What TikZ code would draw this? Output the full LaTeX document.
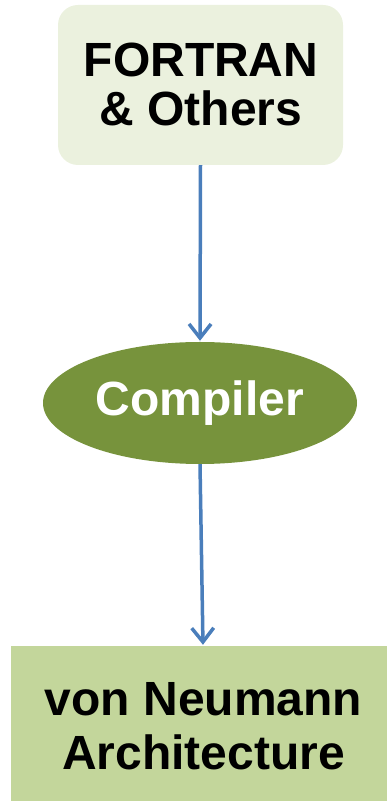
\documentclass[tikz,border=0pt]{standalone}
\usepackage{fontspec}
\setmainfont{Liberation Sans}
\usetikzlibrary{arrows.meta,shapes.geometric}

\definecolor{srcfill}{HTML}{EBF1DE}
\definecolor{compfill}{HTML}{77933C}
\definecolor{archfill}{HTML}{C3D69B}
\definecolor{flowblue}{HTML}{4A7EBB}

\tikzset{
  bigtext/.style={font=\bfseries\fontsize{48}{49}\selectfont, align=center, inner sep=0pt},
  flow/.style={draw=flowblue, line width=3.5pt,
    -{Straight Barb[length=14pt,width=22pt,line width=3.5pt]}, shorten >=1pt},
}

\begin{document}
\begin{tikzpicture}[x=1pt,y=1pt]
  \useasboundingbox (0,0) rectangle (387,801);
  \clip (0,0) rectangle (387,801);

  % source languages box
  \node[fill=srcfill, rounded corners=20pt, minimum width=285pt, minimum height=160pt,
        inner sep=0pt] (src) at (200.5,716) {};
  \node[bigtext] (srcText) at (201,717) {FORTRAN\\[0pt]\& Others};

  % compiler ellipse
  \node[ellipse, fill=compfill, minimum width=314pt, minimum height=122pt,
        inner sep=0pt, bigtext, text=white] (comp) at (200,398) {Compiler};

  % target machine box
  \node[fill=archfill, minimum width=384pt, minimum height=155pt, inner sep=0pt]
        (arch) at (203,77.5) {};
  \node[bigtext, font=\bfseries\fontsize{48}{54}\selectfont] (archText) at (203.5,75)
        {von Neumann\\Architecture};

  % connectors
  \draw[flow] (src.south) -- (comp.north);
  \draw[flow] (comp.south) -- (arch.north);
\end{tikzpicture}
\end{document}
